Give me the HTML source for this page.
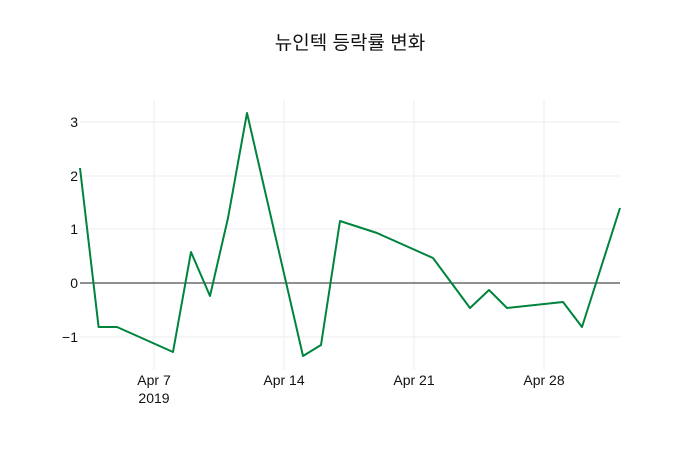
<!DOCTYPE html>
<html><head><meta charset="utf-8"><style>
html,body{margin:0;padding:0;background:#fff;}
svg{display:block;font-family:"Liberation Sans","Noto Sans CJK KR",sans-serif;}
</style></head><body>
<svg width="700" height="450" xmlns="http://www.w3.org/2000/svg">
<rect width="700" height="450" fill="#fff"/>
<g stroke="#eee" stroke-width="1">
<line x1="154" y1="100" x2="154" y2="370"/>
<line x1="284" y1="100" x2="284" y2="370"/>
<line x1="414" y1="100" x2="414" y2="370"/>
<line x1="544" y1="100" x2="544" y2="370"/>
<line x1="80" y1="122" x2="620" y2="122"/>
<line x1="80" y1="176" x2="620" y2="176"/>
<line x1="80" y1="229" x2="620" y2="229"/>
<line x1="80" y1="337" x2="620" y2="337"/>
</g>
<line x1="80" y1="283" x2="620" y2="283" stroke="#222" stroke-width="1"/>
<polyline fill="none" stroke="#00843d" stroke-width="2" stroke-linejoin="round" points="80,168 98.6,327 117,327 173,352 191,252 210,296 228,218 247,113 303,356 321,345 340,221 377,233 433,258 470,308 489,290 507,308 563,302 582,327 620,208"/>
<g font-size="14" fill="#111" text-anchor="end">
<text x="78" y="127">3</text>
<text x="78" y="181">2</text>
<text x="78" y="234">1</text>
<text x="78" y="288">0</text>
<text x="78" y="342">−1</text>
</g>
<g font-size="14" fill="#111" text-anchor="middle">
<text x="154" y="385">Apr 7</text>
<text x="154" y="403">2019</text>
<text x="284" y="385">Apr 14</text>
<text x="414" y="385">Apr 21</text>
<text x="544" y="385">Apr 28</text>
</g>
<text x="350" y="49" font-size="19" fill="#111" text-anchor="middle">뉴인텍 등락률 변화</text>
</svg>
</body></html>
